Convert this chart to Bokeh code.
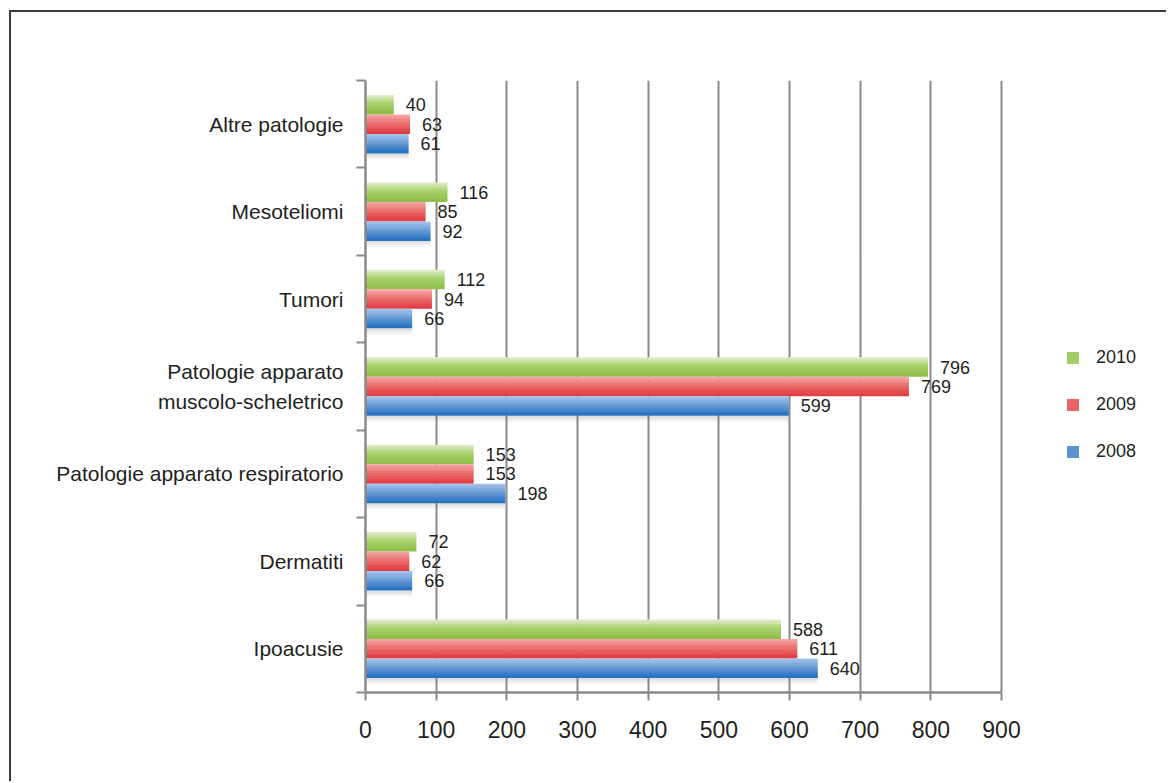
from bokeh.plotting import figure
from bokeh.models import (ColumnDataSource, Range1d, FixedTicker, Legend, LegendItem,
                          LinearAxis)
from bokeh.transform import dodge
from bokeh.core.properties import value
from bokeh.embed import file_html
from bokeh.resources import INLINE

# ---------------- data (top to bottom as displayed) ----------------
categories = ["Altre patologie", "Mesoteliomi", "Tumori",
              "Patologie apparato\nmuscolo-scheletrico",
              "Patologie apparato respiratorio", "Dermatiti", "Ipoacusie"]
series_names = ["2010", "2009", "2008"]
vals_2010 = [40, 116, 112, 796, 153, 72, 588]
vals_2009 = [63, 85, 94, 769, 153, 62, 611]
vals_2008 = [61, 92, 66, 599, 198, 66, 640]
x_ticks = [0, 100, 200, 300, 400, 500, 600, 700, 800, 900]

n = len(categories)
ypos = [n - 1 - i for i in range(n)]
src = ColumnDataSource(dict(y=ypos, cat=categories,
                            v2010=vals_2010, v2009=vals_2009, v2008=vals_2008))

FONT = "Liberation Sans"
TXT = "#231f20"
GRID = "#8a8a8a"

# canvas placement (page margin 0 in Bokeh's template); outer frame via CSS border
OX, OY = 11, 12
W, Hc = 1168 - OX, 783 - OY
BL, BT, BB, BR = 365 - OX, 80 - OY, Hc - (692 - OY), 10
frame_w = W - BL - BR
axis_px = 1001 - 365                      # pixels covered by 0..900
x_end = x_ticks[-1] * frame_w / axis_px

p = figure(width=W, height=Hc, output_backend="svg", toolbar_location=None,
           x_range=Range1d(0, x_end), y_range=Range1d(-0.5, n - 0.5),
           min_border_left=BL, min_border_right=BR, min_border_top=BT,
           min_border_bottom=BB, y_axis_type=None)
p.margin = (OY - 2, 0, 0, OX - 2)
p.styles = {"border-left": "2px solid #3a3a3a", "border-top": "2px solid #3a3a3a"}
p.outline_line_color = None
p.background_fill_color = "white"
p.border_fill_color = "white"

# grid / x axis
p.ygrid.grid_line_color = None
p.xgrid.grid_line_color = GRID
p.xgrid.grid_line_width = 2
p.xaxis.ticker = FixedTicker(ticks=x_ticks)
p.xaxis.bounds = (x_ticks[0], x_ticks[-1])
p.xaxis.axis_line_color = GRID
p.xaxis.axis_line_width = 2.5
p.xaxis.major_tick_line_color = GRID
p.xaxis.major_tick_line_width = 2
p.xaxis.major_tick_out = 8
p.xaxis.major_tick_in = 0
p.xaxis.minor_tick_line_color = None
p.xaxis.major_label_text_font = FONT
p.xaxis.major_label_text_font_size = "23px"
p.xaxis.major_label_text_color = TXT
p.xaxis.major_label_standoff = 20

# y axis: labels at centres, ticks at category boundaries
yaxis = LinearAxis(ticker=FixedTicker(ticks=ypos,
                                      minor_ticks=[k - 0.5 for k in range(n + 1)]))
yaxis.major_label_overrides = {y: c for y, c in zip(ypos, categories)}
yaxis.axis_line_color = GRID
yaxis.axis_line_width = 2.5
yaxis.major_tick_line_color = None
yaxis.major_tick_out = 0
yaxis.major_tick_in = 0
yaxis.minor_tick_line_color = GRID
yaxis.minor_tick_line_width = 2
yaxis.minor_tick_out = 9
yaxis.minor_tick_in = 0
yaxis.major_label_text_font = FONT
yaxis.major_label_text_font_size = "21px"
yaxis.major_label_text_color = TXT
yaxis.major_label_text_line_height = 1.3
yaxis.major_label_standoff = 13
p.add_layout(yaxis, "left")

# bars with a vertical gradient built from overlapping thin strips
H = 0.223
NS = 8
PX = 1.0 / 87.4          # one pixel in y data units
def lerp(a, b, t):
    return tuple(int(round(a[i] + (b[i] - a[i]) * t)) for i in range(3))

def grad(top, mid, bot, t):
    if t < 0.45:
        return lerp(top, mid, t / 0.45)
    return lerp(mid, bot, (t - 0.45) / 0.55)

styles = {
    "2010": ((230, 240, 214), (168, 210, 108), (140, 190, 70)),
    "2009": ((246, 172, 172), (236, 112, 112), (222, 56, 60)),
    "2008": ((172, 199, 236), (108, 158, 214), (30, 110, 190)),
}
offsets = {"2010": H, "2009": 0.0, "2008": -H}
fields = {"2010": "v2010", "2009": "v2009", "2008": "v2008"}

# soft shadow under each group
for k, a in enumerate([0.22, 0.13, 0.06]):
    off = -1.5 * H - (k + 0.5) * 0.024
    p.hbar(y=dodge("y", off, range=p.y_range), left=0, right="v2008", height=0.026,
           source=src, fill_color="#777777", fill_alpha=a, line_color=None)

legend_items = []
for s in series_names:
    top, mid, bot = styles[s]
    c = offsets[s]
    leg_r = None
    sh = H / NS
    for k in range(NS):
        t = (k + 0.5) / NS
        col = "#%02x%02x%02x" % grad(top, mid, bot, t)
        y_bot = c + H / 2 - (k + 1) * sh
        ytop_k = c + H / 2 - k * sh + (PX * 0.5 if k > 0 else 0)
        yc = (ytop_k + y_bot) / 2
        r = p.hbar(y=dodge("y", yc, range=p.y_range), left=0, right=fields[s],
                   height=ytop_k - y_bot, source=src, fill_color=col, line_color=None)
        if k == NS // 2:
            leg_r = r
    legend_items.append(LegendItem(label=s, renderers=[leg_r]))
    p.text(x=fields[s], y=dodge("y", c, range=p.y_range), text=fields[s], source=src,
           x_offset=12, text_baseline="middle", text_align="left",
           text_font=value(FONT), text_font_size="18px", text_color=TXT)

legend = Legend(items=legend_items, location=(700, 230), orientation="vertical",
                glyph_width=15, glyph_height=15, label_height=15, label_standoff=16,
                spacing=26, padding=0, margin=0, border_line_color=None,
                background_fill_alpha=0)
legend.label_text_font = FONT
legend.label_text_font_size = "18px"
legend.label_text_color = TXT
p.add_layout(legend, "center")

open("out.html", "w").write(file_html(p, INLINE))
